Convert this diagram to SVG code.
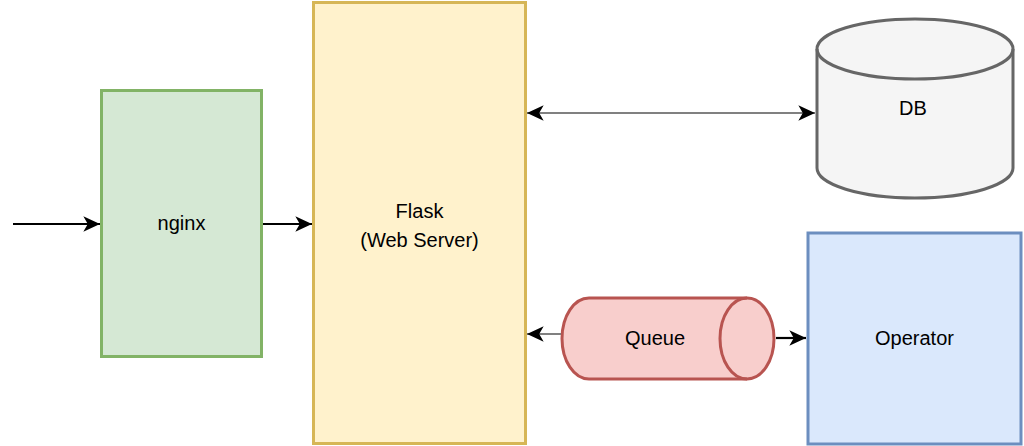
<svg xmlns="http://www.w3.org/2000/svg" width="1024" height="446" viewBox="0 0 1024 446">
<style>
text{font-family:"Liberation Sans",Arial,sans-serif;font-size:20px;fill:#000;text-anchor:middle;dominant-baseline:central}
.e{fill:none;stroke-width:2.2}
.k{stroke:#000}
.g{stroke:#808080}
</style>
<defs>
<marker id="ah" markerUnits="userSpaceOnUse" markerWidth="20" markerHeight="20" viewBox="-16 -8 18 16" refX="0" refY="0" orient="auto">
<path d="M0,0 L-15,-7 L-11,0 L-15,7 Z" fill="#000"/>
</marker>
<marker id="as" markerUnits="userSpaceOnUse" markerWidth="20" markerHeight="20" viewBox="-16 -8 18 16" refX="0" refY="0" orient="auto-start-reverse">
<path d="M0,0 L-15,-7 L-11,0 L-15,7 Z" fill="#000"/>
</marker>
</defs>
<g id="nginx">
<rect x="101.5" y="90.5" width="160" height="266" fill="#d5e8d4" stroke="#82b366" stroke-width="3"/>
<text x="181.5" y="223">nginx</text>
</g>
<g id="flask">
<rect x="313.5" y="2.5" width="212" height="441" fill="#fff2cc" stroke="#d6b656" stroke-width="3"/>
<text x="419.5" y="211">Flask</text>
<text x="419.5" y="240">(Web Server)</text>
</g>
<g id="db">
<path d="M817,49 A98,30 0 0 1 1013,49 L1013,168 A98,30 0 0 1 817,168 Z" fill="#f5f5f5" stroke="#666" stroke-width="3"/>
<path d="M817,49 A98,30 0 0 0 1013,49" fill="none" stroke="#666" stroke-width="3"/>
<text x="913" y="108">DB</text>
</g>
<g id="queue">
<path d="M589,298 L747,298 A27,40.5 0 0 1 747,379 L589,379 A27,40.5 0 0 1 589,298 Z" fill="#f8cecc" stroke="#b85450" stroke-width="3"/>
<path d="M747,298 A27,40.5 0 0 0 747,379" fill="none" stroke="#b85450" stroke-width="3"/>
<text x="655" y="338">Queue</text>
</g>
<g id="operator">
<rect x="808" y="233" width="213" height="211" fill="#dae8fc" stroke="#6c8ebf" stroke-width="3"/>
<text x="914.5" y="338">Operator</text>
</g>
<g id="connectors">
<line class="e k" x1="13" y1="224" x2="100" y2="224" marker-end="url(#ah)"/>
<line class="e k" x1="263" y1="224" x2="312" y2="224" marker-end="url(#ah)"/>
<line class="e g" x1="527" y1="113" x2="815" y2="113" marker-start="url(#as)" marker-end="url(#as)"/>
<line class="e g" x1="561" y1="334" x2="527" y2="334" marker-end="url(#ah)"/>
<line class="e k" x1="776" y1="338" x2="806" y2="338" marker-end="url(#ah)"/>
</g>
</svg>
